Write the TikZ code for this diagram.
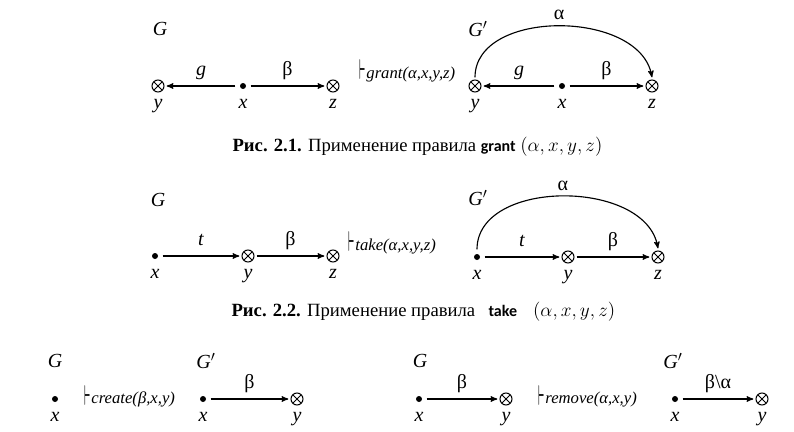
\documentclass[tikz,border=0pt]{standalone}
\usepackage{fontspec}
\setmainfont{Liberation Serif}
\newfontfamily\rulefont{Carlito}
\usetikzlibrary{arrows}
\tikzstyle{rule graphs}=[
    x=0.75pt,y=-0.75pt,>=stealth',line width=0.85pt,
    every edge/.style={draw,->},
    every node/.style={
        font=\fontsize{15}{18}\selectfont\itshape,
    },
]
\tikzstyle{subj}=[circle,fill,inner sep=0pt,minimum size=4.5pt,outer sep=3.5pt]
\tikzstyle{obj}=[circle,draw,line width=0.75pt,inner sep=0pt,minimum size=9pt,outer sep=2pt,
    path picture={\draw[line width=0.75pt]
        (path picture bounding box.south west) -- (path picture bounding box.north east)
        (path picture bounding box.north west) -- (path picture bounding box.south east);}]
\tikzstyle{tag}=[anchor=base,yshift=8pt,inner sep=0pt]
\tikzstyle{toptag}=[anchor=base,yshift=4.5pt,inner sep=0pt]
\tikzstyle{vname}=[anchor=base,yshift=-17pt,inner sep=0pt]
\tikzstyle{deduce}=[anchor=base west,inner sep=0pt]
\tikzstyle{caption}=[anchor=base west,inner sep=0pt,font=\fontsize{14}{17}\selectfont]
\newcommand{\ded}[1]{\raisebox{-1.5pt}{\scalebox{0.55}[1.8]{\fontsize{12}{12}\selectfont\mathversion{bold}$\vdash$}}\hspace{0.5pt}{\fontsize{12.5}{15}\selectfont\itshape #1}}
\newcommand{\rname}[1]{{\rulefont\bfseries\fontsize{12}{14}\selectfont #1}}

\begin{document}
\begin{tikzpicture}[rule graphs]
    \useasboundingbox (0,0) rectangle (794,432);

    % grant
    \node (g1a) at (160,29) {G};
    \node[obj] (y1a) at (158,86) {};
    \node[subj] (x1a) at (243,86) {};
    \node[obj] (z1a) at (333,86) {};
    \node[vname] (ny1a) at (y1a) {y};
    \node[vname] (nx1a) at (x1a) {x};
    \node[vname] (nz1a) at (z1a) {z};
    \node[deduce] (d1) at (359,78) {\ded{grant(α,x,y,z)}};
    \node (g1b) at (478,29) {G$'$};
    \node[obj] (y1b) at (475,86) {};
    \node[subj] (x1b) at (562,86) {};
    \node[obj] (z1b) at (652,86) {};
    \node[vname] (ny1b) at (y1b) {y};
    \node[vname] (nx1b) at (x1b) {x};
    \node[vname] (nz1b) at (z1b) {z};
    \path
        (x1a) edge node[tag] {g} (y1a)
        (x1a) edge node[tag] {\textup{β}} (z1a)
        (x1b) edge node[tag] {g} (y1b)
        (x1b) edge node[tag] {\textup{β}} (z1b)
        (y1b.north) edge[out=90,in=100] node[toptag] {\textup{α}} (z1b.north)
    ;
    \node[caption] (cap1) at (232,151) {\textbf{Рис. 2.1.} Применение правила \rname{grant} $(\alpha,x,y,z)$};

    % take
    \node (g2a) at (158,200) {G};
    \node[subj] (x2a) at (155,256) {};
    \node[obj] (y2a) at (248,256) {};
    \node[obj] (z2a) at (333,256) {};
    \node[vname] (nx2a) at (x2a) {x};
    \node[vname] (ny2a) at (y2a) {y};
    \node[vname] (nz2a) at (z2a) {z};
    \node[deduce] (d2) at (348,250) {\ded{take(α,x,y,z)}};
    \node (g2b) at (478,198) {G$'$};
    \node[subj] (x2b) at (477,257) {};
    \node[obj] (y2b) at (568,257) {};
    \node[obj] (z2b) at (658,257) {};
    \node[vname] (nx2b) at (x2b) {x};
    \node[vname] (ny2b) at (y2b) {y};
    \node[vname] (nz2b) at (z2b) {z};
    \path
        (x2a) edge node[tag] {t} (y2a)
        (y2a) edge node[tag] {\textup{β}} (z2a)
        (x2b) edge node[tag] {t} (y2b)
        (y2b) edge node[tag] {\textup{β}} (z2b)
        (x2b.north) edge[out=90,in=100] node[toptag] {\textup{α}} (z2b.north)
    ;
    \node[caption] (cap2) at (231,316) {\textbf{Рис. 2.2.} Применение правила\hspace{10pt}\rname{take}\hspace{12pt}$(\alpha,x,y,z)$};

    % create
    \node (g3a) at (55,361) {G};
    \node[subj] (x3a) at (55,399) {};
    \node[vname] (nx3a) at (x3a) {x};
    \node[deduce] (d3) at (84,403) {\ded{create(β,x,y)}};
    \node (g3b) at (206,361) {G$'$};
    \node[subj] (x3b) at (203,399) {};
    \node[obj] (y3b) at (297,399) {};
    \node[vname] (nx3b) at (x3b) {x};
    \node[vname] (ny3b) at (y3b) {y};

    % remove
    \node (g4a) at (420,361) {G};
    \node[subj] (x4a) at (419,399) {};
    \node[obj] (y4a) at (506,399) {};
    \node[vname] (nx4a) at (x4a) {x};
    \node[vname] (ny4a) at (y4a) {y};
    \node[deduce] (d4) at (538,403) {\ded{remove(α,x,y)}};
    \node (g4b) at (673,361) {G$'$};
    \node[subj] (x4b) at (675,399) {};
    \node[obj] (y4b) at (762,399) {};
    \node[vname] (nx4b) at (x4b) {x};
    \node[vname] (ny4b) at (y4b) {y};
    \path
        (x3b) edge node[tag] {\textup{β}} (y3b)
        (x4a) edge node[tag] {\textup{β}} (y4a)
        (x4b) edge node[tag] {\textup{β\textbackslash α}} (y4b)
    ;
\end{tikzpicture}
\end{document}
